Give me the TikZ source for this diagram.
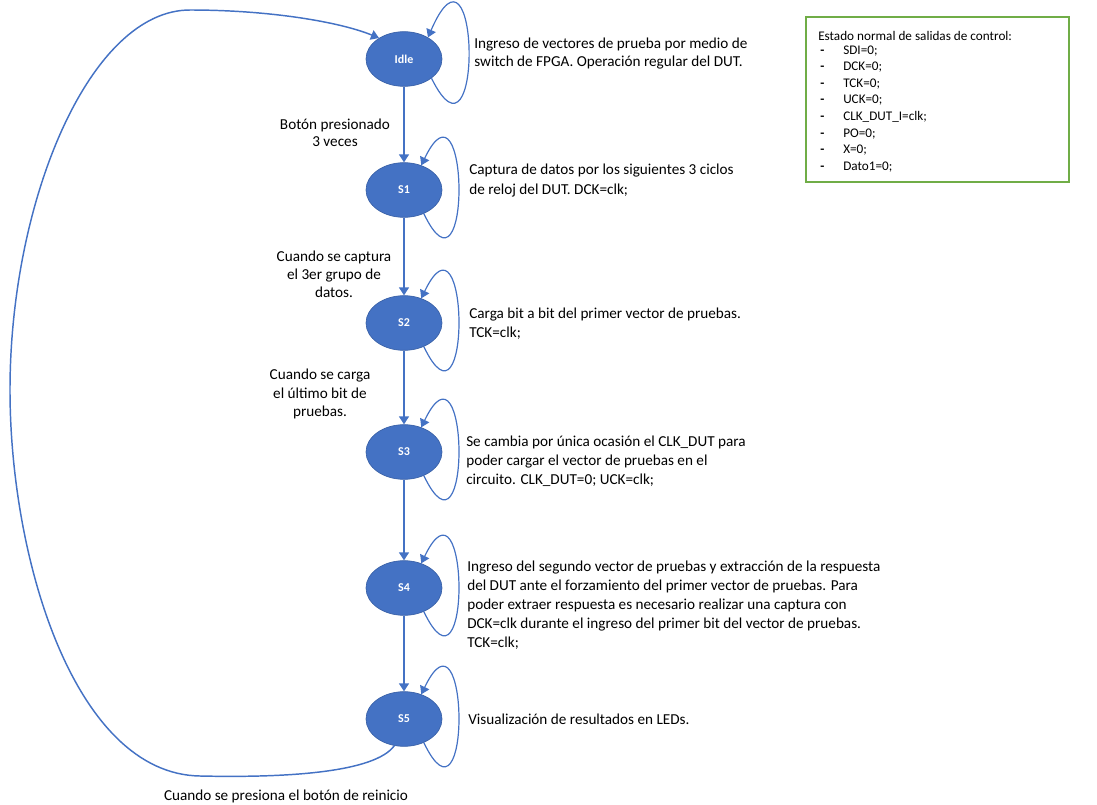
\documentclass[tikz,border=0pt]{standalone}
\usepackage{fontspec}
\setmainfont{Carlito}
\usetikzlibrary{arrows.meta,shapes.geometric}
\definecolor{stateblue}{HTML}{4472C4}
\definecolor{legendgreen}{HTML}{70AD47}
\begin{document}
\begin{tikzpicture}[x=0.75pt,y=-0.75pt,
  state/.style={ellipse, fill=stateblue, draw=stateblue!85!black, line width=0.5pt,
    minimum width=57pt, minimum height=41pt, inner sep=0pt, text=white,
    font=\fontsize{9}{10}\selectfont\bfseries},
  flow/.style={draw=stateblue, line width=1.1pt, -{Triangle[width=7.5pt,length=6pt]}},
  selfloop/.style={draw=stateblue, line width=0.9pt, -{Triangle[width=7.5pt,length=6pt]}},
  note/.style={anchor=west, align=left, inner sep=0pt, font=\fontsize{11.4}{14.3}\selectfont},
  cond/.style={align=center, inner sep=0pt, font=\fontsize{11.4}{13.6}\selectfont},
  legtext/.style={anchor=base west, inner sep=0pt, font=\fontsize{9.9}{11}\selectfont}
]
\useasboundingbox (0,0) rectangle (1097,804);

% states
\node[state] (idle) at (404,59) {Idle};
\node[state] (s1) at (404,190) {S1};
\node[state] (s2) at (404,323) {S2};
\node[state] (s3) at (404,452) {S3};
\node[state] (s4) at (404,588) {S4};
\node[state] (s5) at (404,719) {S5};

% transitions down the chain
\draw[flow] (idle.south) -- (s1.north);
\draw[flow] (s1.south) -- (s2.north);
\draw[flow] (s2.south) -- (s3.north);
\draw[flow] (s3.south) -- (s4.north);
\draw[flow] (s4.south) -- (s5.north);

% self loops
\draw[selfloop] (idle.-35) .. controls +(52,105) and +(52,-120) .. (idle.42);
\foreach \n in {s1,s2,s3,s4,s5}
  \draw[selfloop] (\n.-50) .. controls +(48,100) and +(48,-100) .. (\n.55);

% reset back to Idle
\draw[flow] (s5.250) .. controls (375,772) and (290,778) .. (200,776)
  .. controls (75,774) and (10,560) .. (10,390)
  .. controls (10,200) and (90,10) .. (190,10)
  .. controls (270,10) and (340,22) .. (idle.140);

% state descriptions
\node[note, font=\fontsize{11.4}{12.8}\selectfont] (tidle) at (474,53.5)
  {Ingreso de vectores de prueba por medio de\\switch de FPGA. Operación regular del DUT.};
\node[note] (ts1) at (469,180.5)
  {Captura de datos por los siguientes 3 ciclos\\de reloj del DUT. DCK=clk;};
\node[note] (ts2) at (469,323.5)
  {Carga bit a bit del primer vector de pruebas.\\TCK=clk;};
\node[note] (ts3) at (466,461)
  {Se cambia por única ocasión el CLK\_DUT para\\poder cargar el vector de pruebas en el\\circuito. CLK\_DUT=0; UCK=clk;};
\node[note] (ts4) at (467,605)
  {Ingreso del segundo vector de pruebas y extracción de la respuesta\\del DUT ante el forzamiento del primer vector de pruebas. Para\\poder extraer respuesta es necesario realizar una captura con\\DCK=clk durante el ingreso del primer bit del vector de pruebas.\\TCK=clk;};
\node[note] (ts5) at (468,719) {Visualización de resultados en LEDs.};

% transition conditions
\node[cond, font=\fontsize{11.4}{12.8}\selectfont] (c1) at (335,133) {Botón presionado\\3 veces};
\node[cond] (c2) at (334,274) {Cuando se captura\\el 3er grupo de\\datos.};
\node[cond] (c3) at (320,394) {Cuando se carga\\el último bit de\\pruebas.};
\node[cond] (c4) at (286,796) {Cuando se presiona el botón de reinicio};

% legend with the idle values of the control outputs
\draw[legendgreen, line width=1.3pt] (806,17) rectangle (1069,182);
\node[legtext] (lt) at (818,40) {Estado normal de salidas de control:};
\foreach \t [count=\i] in {{SDI=0;},{DCK=0;},{TCK=0;},{UCK=0;},{CLK\_DUT\_I=clk;},{PO=0;},{X=0;},{Dato1=0;}} {
  \node[legtext] (ld\i) at (820,{54+16.6*(\i-1)}) {\textbf{-}};
  \node[legtext] (li\i) at (843,{54+16.6*(\i-1)}) {\t};
}
\end{tikzpicture}
\end{document}
